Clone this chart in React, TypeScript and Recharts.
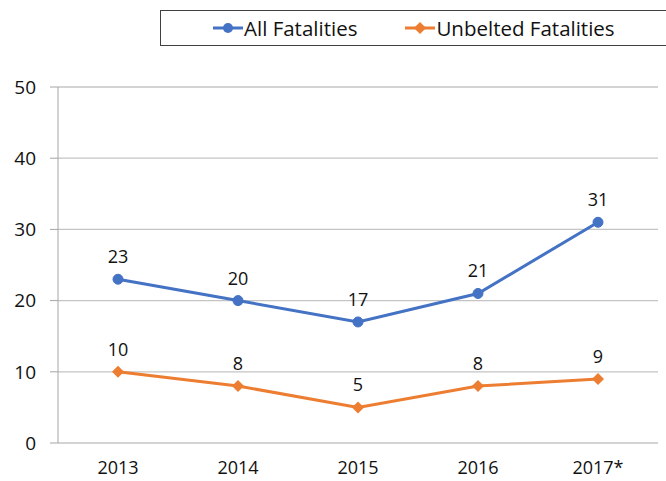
import React from 'react'
import { LineChart, Line, XAxis, YAxis, CartesianGrid, LabelList } from 'recharts'

const YEARS = ['2013', '2014', '2015', '2016', '2017*']
const ALL_FATALITIES = [23, 20, 17, 21, 31]
const UNBELTED_FATALITIES = [10, 8, 5, 8, 9]
const Y_TICKS = [0, 10, 20, 30, 40, 50]
const BAND_EDGES = [0, 1, 2, 3, 4, 5]

const BLUE = '#4472C4'
const ORANGE = '#ED7D31'
const FONT = '"Open Sans", sans-serif'

const data = YEARS.map((year, i) => ({
  year,
  idx: i + 0.5,
  all: ALL_FATALITIES[i],
  unbelted: UNBELTED_FATALITIES[i],
}))

const Diamond = ({ cx, cy }: any) => {
  if (cx == null || cy == null) return null
  const r = 6
  return (
    <polygon
      points={`${cx},${cy - r} ${cx + r},${cy} ${cx},${cy + r} ${cx - r},${cy}`}
      fill={ORANGE}
    />
  )
}

const LegendItem = ({ color, label, diamond, gap }: any) => (
  <span style={{ display: 'inline-flex', alignItems: 'center', marginRight: gap }}>
    <svg width={30} height={14} style={{ marginRight: 1 }}>
      <line x1={0} y1={7} x2={30} y2={7} stroke={color} strokeWidth={3} />
      {diamond ? (
        <polygon points="15,1 21,7 15,13 9,7" fill={color} />
      ) : (
        <circle cx={15} cy={7} r={5} fill={color} />
      )}
    </svg>
    {label}
  </span>
)

export default function App() {
  return (
    <div style={{ position: 'relative', width: 666, height: 481, background: '#ffffff', fontFamily: FONT }}>
      <style>{`body{margin:0}`}</style>
      <div
        style={{
          position: 'absolute',
          left: 160,
          top: 10,
          width: 520,
          height: 36,
          border: '1px solid #404040',
          boxSizing: 'border-box',
          display: 'flex',
          alignItems: 'center',
          paddingLeft: 52,
          fontSize: 20.5,
          color: '#111',
          zIndex: 2,
          background: '#fff',
        }}
      >
        <LegendItem color={BLUE} label="All Fatalities" gap={48} />
        <LegendItem color={ORANGE} label="Unbelted Fatalities" diamond gap={0} />
      </div>
      <LineChart
        width={666}
        height={481}
        data={data}
        margin={{ top: 87, right: 8, bottom: 0, left: 0 }}
      >
        <CartesianGrid vertical={false} stroke="#c4c4c4" strokeWidth={1.3} />
        <XAxis
          xAxisId="edges"
          dataKey="idx"
          type="number"
          domain={[0, 5]}
          ticks={BAND_EDGES}
          tickFormatter={() => ''}
          tickSize={6}
          stroke="#a6a6a6"
          height={0}
        />
        <XAxis
          dataKey="year"
          axisLine={false}
          tickLine={false}
          tickSize={0}
          tickMargin={18}
          height={38}
          padding={{ left: 60, right: 60 }}
          tick={{ fill: '#111', fontSize: 18, fontFamily: FONT }}
        />
        <YAxis
          domain={[0, 50]}
          ticks={Y_TICKS}
          width={58}
          tickSize={8}
          tickMargin={14}
          stroke="#a6a6a6"
          tick={{ fill: '#111', fontSize: 19, fontFamily: FONT }}
        />
        <Line
          dataKey="all"
          stroke={BLUE}
          strokeWidth={3}
          dot={{ r: 5, fill: BLUE, stroke: BLUE, strokeWidth: 1 }}
          isAnimationActive={false}
        >
          <LabelList dataKey="all" position="top" offset={16} fill="#111" fontSize={18} fontFamily={FONT} />
        </Line>
        <Line
          dataKey="unbelted"
          stroke={ORANGE}
          strokeWidth={3}
          dot={<Diamond />}
          isAnimationActive={false}
        >
          <LabelList dataKey="unbelted" position="top" offset={16} fill="#111" fontSize={18} fontFamily={FONT} />
        </Line>
      </LineChart>
    </div>
  )
}
